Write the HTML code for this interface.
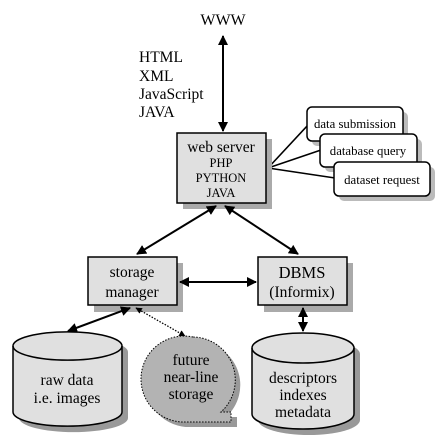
<!DOCTYPE html>
<html><head><meta charset="utf-8"><style>
html,body{margin:0;padding:0;background:#fff}
svg{display:block}
text{font-family:"Liberation Serif",serif;fill:#000}
</style></head><body>
<svg width="444" height="442" viewBox="0 0 444 442" xmlns="http://www.w3.org/2000/svg">
<defs>
<marker id="a" viewBox="0 0 10 10" refX="9" refY="5" markerWidth="5" markerHeight="5" orient="auto-start-reverse"><path d="M0,0 L10,5 L0,10 z" fill="#000"/></marker>
</defs>
<text x="223" y="25" font-size="16" text-anchor="middle">WWW</text>
<g font-size="15.5">
<text x="139" y="62">HTML</text>
<text x="139" y="81">XML</text>
<text x="139" y="99">JavaScript</text>
<text x="139" y="117">JAVA</text>
</g>
<line x1="223" y1="36" x2="223" y2="131" stroke="#000" stroke-width="2" marker-start="url(#a)" marker-end="url(#a)"/>

<line x1="268" y1="168" x2="308" y2="125" stroke="#000" stroke-width="1.6"/>
<line x1="268" y1="168" x2="321" y2="150" stroke="#000" stroke-width="1.6"/>
<line x1="268" y1="168" x2="335" y2="178" stroke="#000" stroke-width="1.6"/>
<rect x="312" y="112" width="96" height="34" rx="5" fill="#bbb"/>
<rect x="307" y="107" width="96" height="34" rx="5" fill="#fff" stroke="#000" stroke-width="1.5"/>
<text x="355" y="128" font-size="12.8" text-anchor="middle">data submission</text>
<rect x="325" y="139" width="97" height="33" rx="5" fill="#bbb"/>
<rect x="320" y="134" width="97" height="33" rx="5" fill="#fff" stroke="#000" stroke-width="1.5"/>
<text x="368" y="155" font-size="12.8" text-anchor="middle">database query</text>
<rect x="339" y="167" width="96" height="34" rx="5" fill="#bbb"/>
<rect x="334" y="162" width="96" height="34" rx="5" fill="#fff" stroke="#000" stroke-width="1.5"/>
<text x="382" y="184" font-size="12.8" text-anchor="middle">dataset request</text>

<rect x="183" y="139" width="89" height="70" fill="#aaa"/>
<rect x="177" y="133" width="89" height="70" fill="#e0e0e0" stroke="#000" stroke-width="1.5"/>
<text x="221" y="152" font-size="15.5" text-anchor="middle">web server</text>
<text x="221" y="167" font-size="12.5" text-anchor="middle">PHP</text>
<text x="221" y="182" font-size="12.5" text-anchor="middle">PYTHON</text>
<text x="221" y="197" font-size="12.5" text-anchor="middle">JAVA</text>

<line x1="216" y1="206" x2="137" y2="254" stroke="#000" stroke-width="2" marker-start="url(#a)" marker-end="url(#a)"/>
<line x1="225" y1="206" x2="298" y2="254" stroke="#000" stroke-width="2" marker-start="url(#a)" marker-end="url(#a)"/>

<rect x="94" y="263" width="89" height="49" fill="#aaa"/>
<rect x="88" y="257" width="89" height="48" fill="#e0e0e0" stroke="#000" stroke-width="1.5"/>
<text x="132" y="277" font-size="15.5" text-anchor="middle">storage</text>
<text x="132" y="297" font-size="15.5" text-anchor="middle">manager</text>
<rect x="264" y="263" width="89" height="49" fill="#aaa"/>
<rect x="258" y="257" width="89" height="48" fill="#e0e0e0" stroke="#000" stroke-width="1.5"/>
<text x="302" y="278" font-size="16.5" text-anchor="middle">DBMS</text>
<text x="302" y="297" font-size="15.5" text-anchor="middle">(Informix)</text>

<line x1="180" y1="282" x2="256" y2="282" stroke="#000" stroke-width="2" marker-start="url(#a)" marker-end="url(#a)"/>
<line x1="130" y1="308" x2="68" y2="331" stroke="#000" stroke-width="2" marker-start="url(#a)" marker-end="url(#a)"/>
<line x1="136" y1="308" x2="185" y2="336" stroke="#000" stroke-width="1.3" stroke-dasharray="1.5,1.5" marker-start="url(#a)" marker-end="url(#a)"/>
<line x1="303" y1="308" x2="303" y2="331" stroke="#000" stroke-width="2" marker-start="url(#a)" marker-end="url(#a)"/>

<path d="M19,352 A54,14 0 0 1 128,352 L128,418 A54,14 0 0 1 19,418 Z" fill="#999"/>
<path d="M13,346 A54,14 0 0 1 122,346 L122,412 A54,14 0 0 1 13,412 Z" fill="#e0e0e0" stroke="#000" stroke-width="1.5"/>
<path d="M13,346 A54,14 0 0 0 122,346" fill="none" stroke="#000" stroke-width="1.5"/>
<text x="67" y="385" font-size="15.5" text-anchor="middle">raw data</text>
<text x="67" y="403" font-size="15.5" text-anchor="middle">i.e. images</text>

<path d="M258,354 A51,15 0 0 1 360,354 L360,420 A51,15 0 0 1 258,420 Z" fill="#999"/>
<path d="M252,348 A51,15 0 0 1 354,348 L354,414 A51,15 0 0 1 252,414 Z" fill="#e0e0e0" stroke="#000" stroke-width="1.5"/>
<path d="M252,348 A51,15 0 0 0 354,348" fill="none" stroke="#000" stroke-width="1.5"/>
<text x="303" y="383" font-size="15.5" text-anchor="middle">descriptors</text>
<text x="303" y="400" font-size="15.5" text-anchor="middle">indexes</text>
<text x="303" y="417" font-size="15.5" text-anchor="middle">metadata</text>

<path d="M198,342 A43,43 0 1 0 191,427 L237,427 L237,417 L226,417 A43,43 0 0 0 198,342 Z" fill="#999"/>
<path d="M193,337 A43,43 0 1 0 186,422 L231,422 L231,412 L221,412 A43,43 0 0 0 193,337 Z" fill="#b3b3b3" stroke="#000" stroke-width="1" stroke-dasharray="1.5,1.5"/>
<text x="191" y="365" font-size="15.5" text-anchor="middle">future</text>
<text x="191" y="382" font-size="15.5" text-anchor="middle">near-line</text>
<text x="191" y="399" font-size="15.5" text-anchor="middle">storage</text>
</svg>
</body></html>
